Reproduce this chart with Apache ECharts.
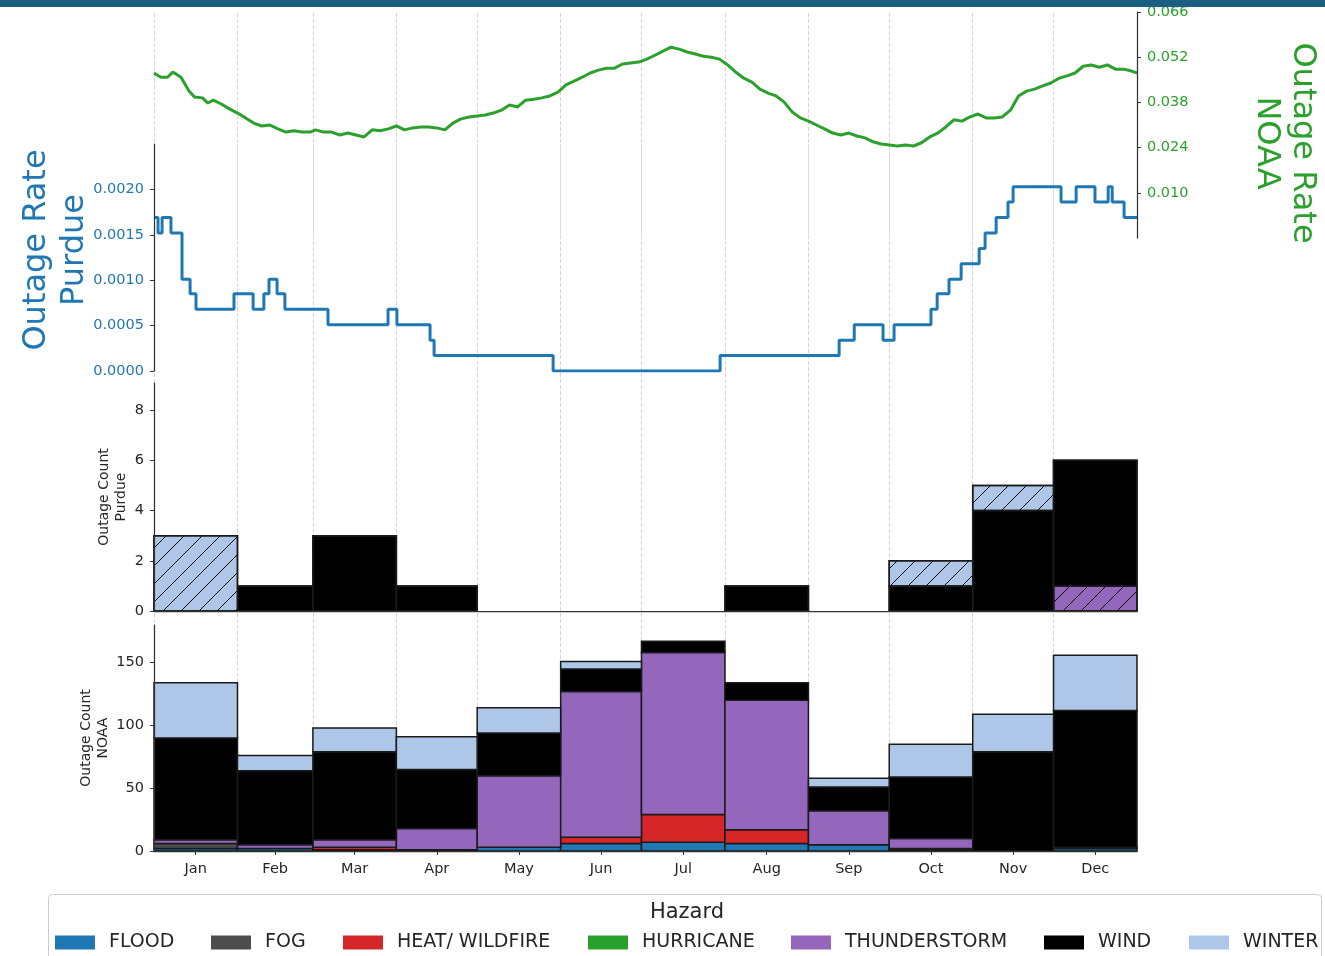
<!DOCTYPE html>
<html>
<head>
<meta charset="utf-8">
<script src="https://cdn.jsdelivr.net/npm/echarts@6/dist/echarts.min.js"></script>
<style>
  html, body { margin: 0; padding: 0; background: #ffffff; }
  #chart { width: 1325px; height: 956px; }
</style>
</head>
<body>
<div id="chart"></div>
<script>
// ---- calendar -------------------------------------------------------------
const MONTHS = ['Jan', 'Feb', 'Mar', 'Apr', 'May', 'Jun', 'Jul', 'Aug', 'Sep', 'Oct', 'Nov', 'Dec'];
const MONTH_DAYS = [31, 28, 31, 30, 31, 30, 31, 31, 30, 31, 30, 31];

// ---- hazards --------------------------------------------------------------
const HAZARDS = ['FLOOD', 'FOG', 'HEAT/ WILDFIRE', 'HURRICANE', 'THUNDERSTORM', 'WIND', 'WINTER'];
const HAZARD_COLORS = ['#1f77b4', '#4d4d4d', '#d62728', '#2ca02c', '#9467bd', '#000000', '#aec7e8'];

// ---- monthly outage counts, NOAA (Jan..Dec) -------------------------------
const NOAA_FLOOD        = [2, 2, 1, 1, 3, 6, 7, 6, 5, 1, 0, 2];
const NOAA_FOG          = [4, 0, 0, 0, 0, 0, 0, 0, 0, 1, 0, 1];
const NOAA_HEAT         = [0, 0, 2, 0, 0, 5, 22, 11, 0, 0, 0, 0];
const NOAA_HURRICANE    = [0, 0, 0, 0, 0, 0, 0, 0, 0, 0, 0, 0];
const NOAA_THUNDERSTORM = [3, 3, 6, 17, 57, 116, 129, 103, 27, 8, 0, 0];
const NOAA_WIND         = [81, 59, 70, 47, 34, 18, 9, 14, 19, 49, 79, 109];
const NOAA_WINTER       = [44, 12, 19, 26, 20, 6, 0, 0, 7, 26, 30, 44];

// ---- monthly outage counts, Purdue (Jan..Dec) -----------------------------
const PURDUE_FLOOD        = [0, 0, 0, 0, 0, 0, 0, 0, 0, 0, 0, 0];
const PURDUE_FOG          = [0, 0, 0, 0, 0, 0, 0, 0, 0, 0, 0, 0];
const PURDUE_HEAT         = [0, 0, 0, 0, 0, 0, 0, 0, 0, 0, 0, 0];
const PURDUE_HURRICANE    = [0, 0, 0, 0, 0, 0, 0, 0, 0, 0, 0, 0];
const PURDUE_THUNDERSTORM = [0, 0, 0, 0, 0, 0, 0, 0, 0, 0, 0, 1];
const PURDUE_WIND         = [0, 1, 3, 1, 0, 0, 0, 1, 0, 1, 4, 5];
const PURDUE_WINTER       = [3, 0, 0, 0, 0, 0, 0, 0, 0, 1, 1, 0];

// ---- daily outage rate, NOAA (day of year, rate) ---------------------------
const NOAA_RATE_DAYS = [
  0, 2.5, 5, 7, 10, 13, 15, 18, 20, 22, 25, 28, 31, 34, 37, 40, 43, 46, 49, 52,
  55, 58, 60, 63, 66, 69, 72, 75, 78, 81, 84, 87, 90, 93, 96, 99, 102, 105, 108, 111,
  114, 117, 120, 123, 126, 129, 132, 135, 138, 141, 144, 147, 150, 153, 156, 159, 162, 165, 168, 171,
  174, 177, 180, 183, 186, 189, 192, 195, 198, 201, 204, 207, 210, 213, 216, 219, 222, 225, 228, 231,
  234, 237, 240, 243, 246, 249, 252, 255, 258, 261, 264, 267, 270, 273, 276, 279, 282, 285, 288, 291,
  294, 297, 300, 303, 306, 309, 312, 315, 318, 321, 324, 327, 330, 333, 336, 339, 342, 345, 348, 351,
  354, 357, 360, 363, 365
];
const NOAA_RATE = [
  0.0471, 0.0458, 0.0458, 0.0474, 0.0458, 0.0415, 0.0397, 0.0394, 0.0378, 0.0387,
  0.0375, 0.0360, 0.0347, 0.0332, 0.0316, 0.0307, 0.0310, 0.0298, 0.0288, 0.0292,
  0.0288, 0.0288, 0.0295, 0.0288, 0.0288, 0.0279, 0.0285, 0.0279, 0.0273, 0.0295,
  0.0292, 0.0298, 0.0307, 0.0295, 0.0301, 0.0304, 0.0304, 0.0301, 0.0295, 0.0316,
  0.0329, 0.0335, 0.0338, 0.0341, 0.0347, 0.0356, 0.0372, 0.0366, 0.0387, 0.0390,
  0.0394, 0.0400, 0.0412, 0.0434, 0.0446, 0.0458, 0.0471, 0.0480, 0.0486, 0.0486,
  0.0499, 0.0502, 0.0505, 0.0514, 0.0526, 0.0539, 0.0551, 0.0545, 0.0536, 0.0530,
  0.0523, 0.0520, 0.0514, 0.0496, 0.0474, 0.0455, 0.0443, 0.0421, 0.0409, 0.0400,
  0.0381, 0.0350, 0.0332, 0.0322, 0.0310, 0.0298, 0.0285, 0.0279, 0.0285, 0.0276,
  0.0270, 0.0258, 0.0251, 0.0248, 0.0245, 0.0248, 0.0245, 0.0255, 0.0273, 0.0285,
  0.0304, 0.0326, 0.0322, 0.0335, 0.0344, 0.0332, 0.0332, 0.0335, 0.0356, 0.0400,
  0.0415, 0.0421, 0.0431, 0.0440, 0.0455, 0.0462, 0.0471, 0.0492, 0.0496, 0.0489,
  0.0496, 0.0483, 0.0483, 0.0477, 0.0471
];

// ---- daily outage rate, Purdue: day where each level starts, and the level --
const PURDUE_RATE_DAYS = [
  0, 1.5, 3, 6.3, 10.4, 13.4, 15.6, 29.7, 36.8, 40.8, 42.7, 45.7, 48.6, 64.6, 86.9, 90.2,
  102.5, 104, 148.2, 210.2, 254.4, 260, 270.7, 274.8, 288.5, 290.8, 295.2, 299.7, 306.4,
  308.6, 312.7, 317.1, 319, 336.8, 342.4, 349.4, 354.3, 355.8, 360.2, 365
];
const PURDUE_RATE = [
  0.00169, 0.00152, 0.00169, 0.00152, 0.00101, 0.00085, 0.00068, 0.00085, 0.00068, 0.00085,
  0.00101, 0.00085, 0.00068, 0.00051, 0.00068, 0.00051, 0.00034, 0.00017, 0, 0.00017,
  0.00034, 0.00051, 0.00034, 0.00051, 0.00068, 0.00085, 0.00101, 0.00118, 0.00135, 0.00152,
  0.00169, 0.00186, 0.00203, 0.00186, 0.00203, 0.00186, 0.00203, 0.00186, 0.00169, 0.00169
];

// ---- tick labels ------------------------------------------------------------
const NOAA_RATE_TICKS = [0.010, 0.024, 0.038, 0.052, 0.066];
const PURDUE_RATE_TICKS = [0, 0.0005, 0.0010, 0.0015, 0.0020];
const PURDUE_COUNT_TICKS = [0, 2, 4, 6, 8];
const NOAA_COUNT_TICKS = [0, 50, 100, 150];

// ---- derived helpers ----------------------------------------------------------
const MONTH_START = [];
(function () { let acc = 0; MONTH_DAYS.forEach(d => { MONTH_START.push(acc); acc += d; }); })();
const MONTH_END = MONTH_START.map((s, i) => s + MONTH_DAYS[i]);
const MONTH_MID = MONTH_START.map((s, i) => s + MONTH_DAYS[i] / 2);
const YEAR_DAYS = MONTH_END[MONTH_END.length - 1];

const NOAA_COUNTS = [NOAA_FLOOD, NOAA_FOG, NOAA_HEAT, NOAA_HURRICANE, NOAA_THUNDERSTORM, NOAA_WIND, NOAA_WINTER];
const PURDUE_COUNTS = [PURDUE_FLOOD, PURDUE_FOG, PURDUE_HEAT, PURDUE_HURRICANE, PURDUE_THUNDERSTORM, PURDUE_WIND, PURDUE_WINTER];

const FONT = 'DejaVu Sans';
const INK = '#262626';
const SPINE = '#333333';
const EDGE = '#1a1a1a';
const BLUE = '#1f77b4';
const GREEN = '#2ca02c';
const TICK_FONT = 14.5;

// diagonal "//" hatch tile, anchored to the canvas origin
const hatchPattern = (function () {
  const s = 18;
  const c = document.createElement('canvas');
  c.width = s; c.height = s;
  const ctx = c.getContext('2d');
  ctx.strokeStyle = '#000';
  ctx.lineWidth = 1;
  ctx.beginPath();
  ctx.moveTo(0, s); ctx.lineTo(s, 0);
  ctx.moveTo(-1, 1); ctx.lineTo(1, -1);
  ctx.moveTo(s - 1, s + 1); ctx.lineTo(s + 1, s - 1);
  ctx.stroke();
  return { image: c, repeat: 'repeat' };
})();

// stack the hazard counts month by month into [start, end, base, top] rows
function stackRows(countsByHazard) {
  const base = MONTH_DAYS.map(() => 0);
  return countsByHazard.map(counts => counts.map((v, m) => {
    const row = [MONTH_START[m], MONTH_END[m], base[m], base[m] + v];
    base[m] += v;
    return row;
  }));
}

function barSeries(name, color, rows, axisIndex, hatched) {
  return {
    type: 'custom',
    name: name,
    xAxisIndex: axisIndex,
    yAxisIndex: axisIndex,
    itemStyle: { color: color },
    encode: { x: [0, 1], y: [2, 3] },
    data: rows,
    z: 2,
    silent: true,
    renderItem: function (params, api) {
      const lo = api.value(2), hi = api.value(3);
      if (!(hi > lo)) return null;
      const p0 = api.coord([api.value(0), lo]);
      const p1 = api.coord([api.value(1), hi]);
      const shape = { x: p0[0], y: p1[1], width: p1[0] - p0[0], height: p0[1] - p1[1] };
      const children = [{ type: 'rect', shape: shape, style: { fill: color, stroke: EDGE, lineWidth: 1.5 } }];
      if (hatched) {
        children.push({ type: 'rect', shape: shape, style: { fill: hatchPattern, stroke: EDGE, lineWidth: 1.5 } });
      }
      return { type: 'group', children: children };
    }
  };
}

const noaaRows = stackRows(NOAA_COUNTS);
const purdueRows = stackRows(PURDUE_COUNTS);

// ---- layout -------------------------------------------------------------------
const PLOT_LEFT = 154, PLOT_WIDTH = 983;
const grids = [
  { left: PLOT_LEFT, width: PLOT_WIDTH, top: 12, height: 226 },   // 0 NOAA rate
  { left: PLOT_LEFT, width: PLOT_WIDTH, top: 144, height: 227 },  // 1 Purdue rate
  { left: PLOT_LEFT, width: PLOT_WIDTH, top: 383, height: 228 },  // 2 Purdue counts
  { left: PLOT_LEFT, width: PLOT_WIDTH, top: 625, height: 226 },  // 3 NOAA counts
  { left: PLOT_LEFT, width: PLOT_WIDTH, top: 12, height: 839 },   // 4 month guides
  { left: PLOT_LEFT, width: PLOT_WIDTH, top: 144, height: 94 }    // 5 guides where rate panels overlap
];

function dayAxis(gridIndex, extra) {
  return Object.assign({
    type: 'value', gridIndex: gridIndex, min: 0, max: YEAR_DAYS,
    show: false, splitLine: { show: false }
  }, extra || {});
}

function valueAxis(gridIndex, ticks, extra, labelExtra) {
  return Object.assign({
    type: 'value', gridIndex: gridIndex, z: 4,
    splitLine: { show: false },
    axisLine: { show: true, onZero: false, lineStyle: { color: SPINE, width: 1.25 } },
    axisTick: { show: true, length: 4, customValues: ticks, lineStyle: { color: SPINE, width: 1 } },
    axisLabel: Object.assign({ customValues: ticks, fontFamily: FONT, fontSize: TICK_FONT, color: INK, margin: 10 },
                             labelExtra || {})
  }, extra || {});
}

const xAxes = [
  dayAxis(0), dayAxis(1),
  dayAxis(2, {
    show: true, z: 4,
    axisLine: { show: true, onZero: false, lineStyle: { color: SPINE, width: 1.25 } },
    axisTick: { show: false }, axisLabel: { show: false }
  }),
  dayAxis(3, {
    show: true, z: 4,
    axisLine: { show: true, onZero: false, lineStyle: { color: SPINE, width: 1.25 } },
    axisTick: { show: true, length: 4, customValues: MONTH_MID, lineStyle: { color: SPINE } },
    axisLabel: {
      show: true, customValues: MONTH_MID, fontFamily: FONT, fontSize: TICK_FONT, color: INK, margin: 11,
      formatter: v => MONTHS[MONTH_MID.findIndex(m => Math.abs(m - v) < 1e-6)] || ''
    }
  }),
  dayAxis(4), dayAxis(5)
];

const yAxes = [
  valueAxis(0, NOAA_RATE_TICKS, { position: 'right', min: -0.004, max: 0.066 },
            { color: GREEN, formatter: v => v.toFixed(3) }),
  valueAxis(1, PURDUE_RATE_TICKS, { position: 'left', min: 0, max: 0.0025 },
            { color: BLUE, formatter: v => v.toFixed(4) }),
  valueAxis(2, PURDUE_COUNT_TICKS, { position: 'left', min: 0, max: 9.08 }),
  valueAxis(3, NOAA_COUNT_TICKS, { position: 'left', min: 0, max: 180 }),
  { type: 'value', gridIndex: 4, min: 0, max: 1, show: false, splitLine: { show: false } },
  { type: 'value', gridIndex: 5, min: 0, max: 1, show: false, splitLine: { show: false } }
];

function guideSeries(axisIndex, lineStyle) {
  return {
    type: 'line', xAxisIndex: axisIndex, yAxisIndex: axisIndex,
    data: [], silent: true, z: 0, showSymbol: false,
    markLine: {
      z: 0, silent: true, animation: false, symbol: ['none', 'none'],
      label: { show: false }, emphasis: { disabled: true },
      lineStyle: lineStyle,
      data: MONTH_START.map(d => ({ xAxis: d }))
    }
  };
}

const series = [
  guideSeries(4, { color: '#d4d4d4', width: 1, type: [4, 2] }),
  guideSeries(5, { color: '#dcdcdc', width: 1, type: 'solid' }),
  {
    type: 'line', name: 'Outage Rate NOAA', xAxisIndex: 0, yAxisIndex: 0, z: 3,
    data: NOAA_RATE_DAYS.map((d, i) => [d, NOAA_RATE[i]]),
    showSymbol: false, symbol: 'none', silent: true,
    lineStyle: { color: GREEN, width: 3 }
  },
  {
    type: 'line', name: 'Outage Rate Purdue', xAxisIndex: 1, yAxisIndex: 1, z: 3,
    data: PURDUE_RATE_DAYS.map((d, i) => [d, PURDUE_RATE[i]]),
    step: 'end', showSymbol: false, symbol: 'none', silent: true,
    lineStyle: { color: BLUE, width: 3 }
  }
];
HAZARDS.forEach((h, i) => series.push(barSeries(h, HAZARD_COLORS[i], noaaRows[i], 3, false)));
HAZARDS.forEach((h, i) => series.push(barSeries(h, HAZARD_COLORS[i], purdueRows[i], 2, true)));

// one legend block per hazard so each swatch sits at its own slot
const LEGEND_LEFT = [55, 211, 343, 588, 791, 1044, 1189];
const legends = HAZARDS.map((h, i) => ({
  data: [h], left: LEGEND_LEFT[i], top: 933, orient: 'horizontal', padding: 0,
  icon: 'rect', itemWidth: 40, itemHeight: 14, selectedMode: false,
  itemStyle: { borderWidth: 0 },
  textStyle: { fontFamily: FONT, fontSize: 19, color: INK, padding: [0, 0, 0, 9] }
}));

const graphic = [
  { type: 'rect', z: -1, shape: { x: 48.5, y: 894.5, width: 1273, height: 90, r: 4 },
    style: { fill: '#ffffff', stroke: '#cccccc', lineWidth: 1 } },
  { type: 'text', x: 687, y: 913, z: 5,
    style: { text: 'Hazard', font: '21px "DejaVu Sans"', fill: INK, align: 'center', verticalAlign: 'middle' } },
  { type: 'text', x: 56, y: 250, rotation: Math.PI / 2, z: 5,
    style: { text: 'Outage Rate\nPurdue', font: '32px "DejaVu Sans"', fill: BLUE, align: 'center',
             verticalAlign: 'middle', lineHeight: 38 } },
  { type: 'text', x: 1284, y: 143, rotation: -Math.PI / 2, z: 5,
    style: { text: 'Outage Rate\nNOAA', font: '32px "DejaVu Sans"', fill: GREEN, align: 'center',
             verticalAlign: 'middle', lineHeight: 36 } },
  { type: 'text', x: 113, y: 497, rotation: Math.PI / 2, z: 5,
    style: { text: 'Outage Count\nPurdue', font: '14px "DejaVu Sans"', fill: INK, align: 'center',
             verticalAlign: 'middle', lineHeight: 17 } },
  { type: 'text', x: 94.5, y: 738, rotation: Math.PI / 2, z: 5,
    style: { text: 'Outage Count\nNOAA', font: '14px "DejaVu Sans"', fill: INK, align: 'center',
             verticalAlign: 'middle', lineHeight: 17 } },
  { type: 'rect', z: 100, shape: { x: 0, y: 0, width: 1325, height: 7 }, style: { fill: '#1a5e80' } }
];

const chart = echarts.init(document.getElementById('chart'), null, { renderer: 'canvas' });
chart.setOption({
  animation: false,
  backgroundColor: '#ffffff',
  grid: grids,
  xAxis: xAxes,
  yAxis: yAxes,
  legend: legends,
  graphic: graphic,
  series: series
});
</script>
</body>
</html>
